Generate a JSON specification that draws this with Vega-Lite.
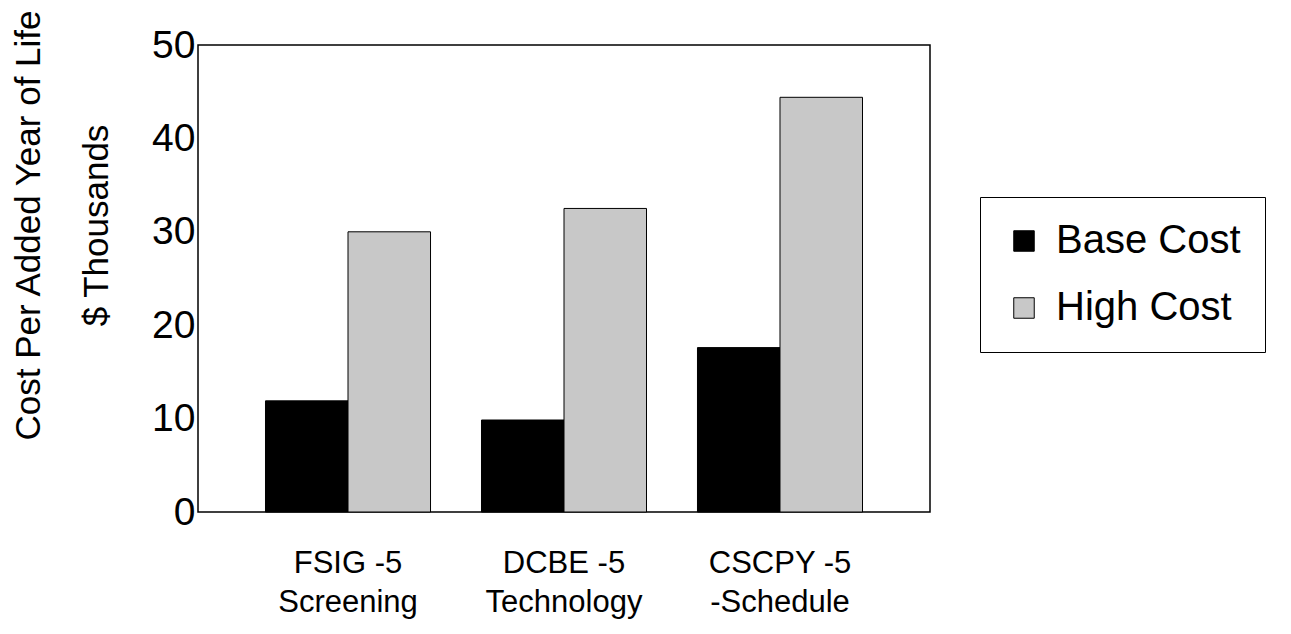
{
  "$schema": "https://vega.github.io/schema/vega-lite/v6.json",
  "autosize": {"type": "none"},
  "padding": {"left": 198, "top": 45, "right": 361, "bottom": 122},
  "width": 732,
  "height": 467,
  "background": "white",
  "config": {
    "font": "Liberation Sans",
    "view": {"stroke": "#000000", "strokeWidth": 1.5}
  },
  "data": {
    "values": [
      {"cat": "FSIG -5|Screening", "series": "Base Cost", "value": 11.9},
      {"cat": "FSIG -5|Screening", "series": "High Cost", "value": 30.0},
      {"cat": "DCBE -5|Technology", "series": "Base Cost", "value": 9.85},
      {"cat": "DCBE -5|Technology", "series": "High Cost", "value": 32.5},
      {"cat": "CSCPY -5|-Schedule", "series": "Base Cost", "value": 17.6},
      {"cat": "CSCPY -5|-Schedule", "series": "High Cost", "value": 44.4}
    ]
  },
  "mark": {"type": "bar", "stroke": "#000000", "strokeWidth": 1},
  "encoding": {
    "x": {
      "field": "cat",
      "type": "nominal",
      "sort": null,
      "scale": {"paddingInner": 0.236, "paddingOuter": 0.3125},
      "axis": {
        "title": null,
        "labelAngle": 0,
        "labelExpr": "split(datum.label, '|')",
        "labelFont": "Liberation Sans",
        "labelFontSize": 31,
        "labelLineHeight": 39,
        "labelBaseline": "top",
        "labelPadding": 36,
        "labelColor": "#000000",
        "ticks": false,
        "domain": false
      }
    },
    "xOffset": {
      "field": "series",
      "type": "nominal",
      "scale": {"paddingInner": 0, "paddingOuter": 0}
    },
    "y": {
      "field": "value",
      "type": "quantitative",
      "scale": {"domain": [0, 50], "nice": false},
      "axis": {
        "values": [0, 10, 20, 30, 40, 50],
        "grid": false,
        "ticks": false,
        "domain": false,
        "labelFontSize": 39,
        "labelColor": "#000000",
        "labelPadding": 3,
        "title": ["Cost Per Added Year of Life", "$ Thousands"],
        "titleFontSize": 35,
        "titleFontWeight": "normal",
        "titleColor": "#000000",
        "titleLineHeight": 68,
        "titleAngle": -90,
        "titleAlign": "center",
        "titleBaseline": "top",
        "titleX": -187,
        "titleY": 180
      }
    },
    "color": {
      "field": "series",
      "type": "nominal",
      "scale": {"domain": ["Base Cost", "High Cost"], "range": ["#000000", "#c8c8c8"]},
      "legend": {
        "title": null,
        "orient": "none",
        "legendX": 782,
        "legendY": 152,
        "padding": 24,
        "strokeColor": "#000000",
        "symbolType": "square",
        "symbolSize": 420,
        "symbolStrokeColor": "#000000",
        "symbolStrokeWidth": 1,
        "labelFontSize": 40,
        "labelColor": "#000000",
        "labelOffset": 12,
        "rowPadding": 27,
        "labelLimit": 400
      }
    }
  }
}
